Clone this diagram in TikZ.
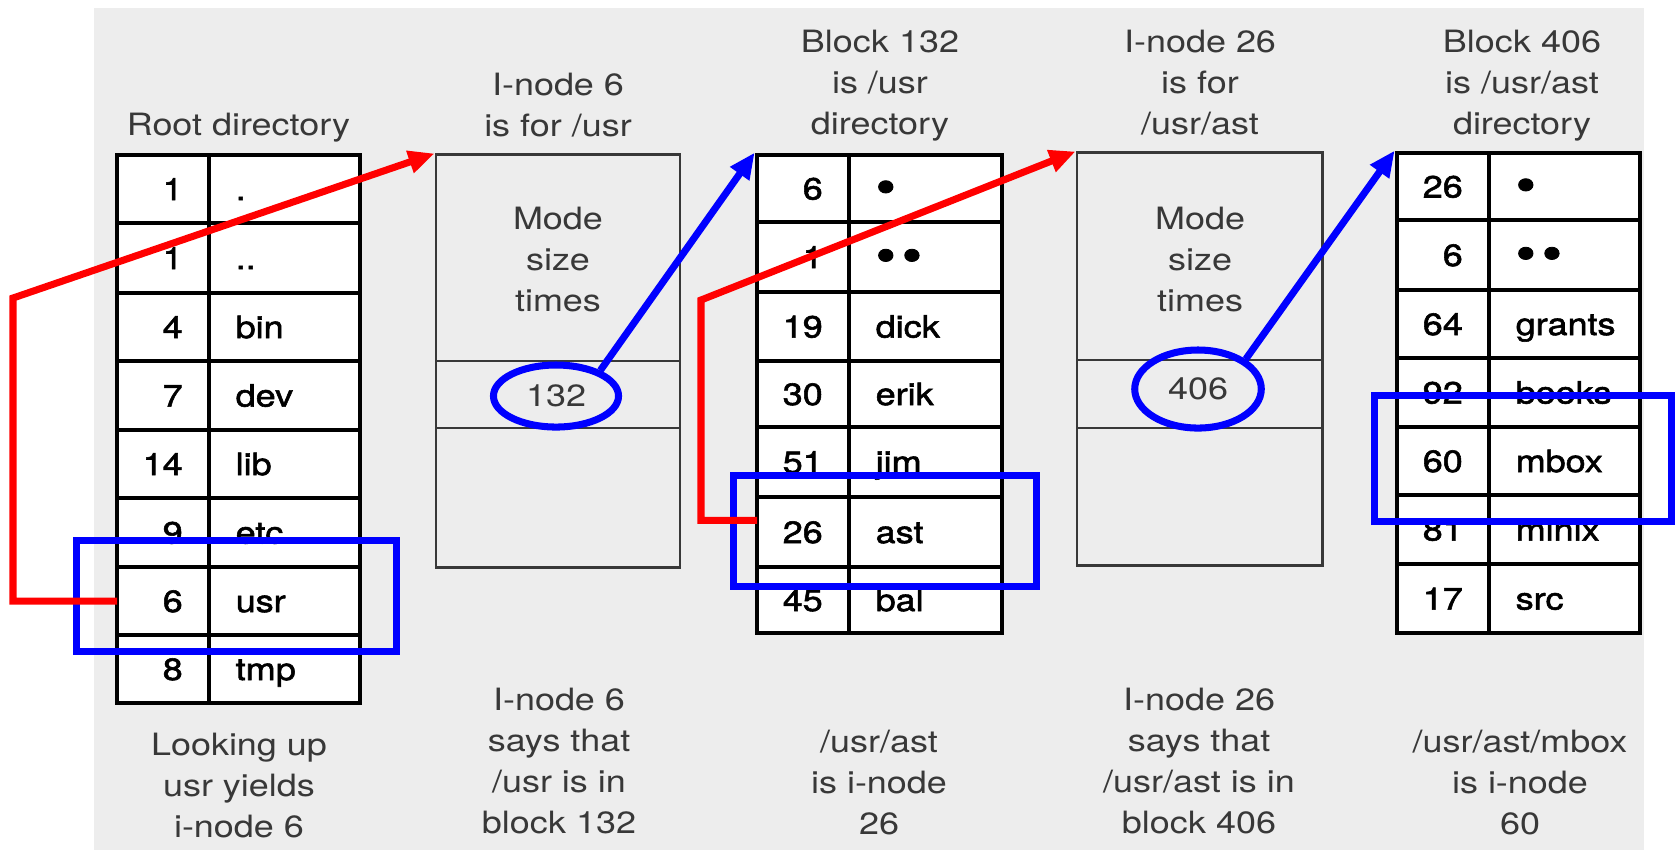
\documentclass[tikz,border=0pt]{standalone}
\usepackage{fontspec}
\setmainfont{TeX Gyre Heros}[FakeStretch=1.17]
\newfontfamily\cellfont{TeX Gyre Heros}[FakeStretch=1.17,FakeBold=1.8]
\usetikzlibrary{arrows.meta,shapes.geometric}
\definecolor{paper}{HTML}{EDEDED}
\definecolor{inkgray}{HTML}{383838}
\definecolor{markred}{HTML}{FF0000}
\definecolor{markblue}{HTML}{0000FF}
\newcommand\entrydot{\raisebox{-0.14em}{\scalebox{1.6}{\textbullet}}}

\begin{document}
\begin{tikzpicture}[x=0.01cm,y=-0.01cm,
  caption/.style={align=center,inner sep=0pt,anchor=north,text=inkgray,
    font=\fontsize{8.74}{11.67}\selectfont},
  tablebox/.style={draw=black,fill=white,line width=1.3pt,inner sep=0pt},
  tableline/.style={draw=black,line width=1.3pt},
  inodebox/.style={draw=inkgray,line width=0.8pt,inner sep=0pt},
  inodeline/.style={draw=inkgray,line width=0.8pt},
  numcell/.style={anchor=west,text width=0.65cm,align=right,inner sep=0pt,
    text height=0.22cm,text depth=0pt,font=\cellfont\fontsize{8.74}{11.67}\selectfont},
  namecell/.style={anchor=west,inner sep=0pt,text height=0.22cm,text depth=0pt,
    font=\cellfont\fontsize{8.74}{11.67}\selectfont},
  ring/.style={ellipse,draw=markblue,line width=2pt,inner sep=0pt,text=inkgray,
    font=\fontsize{8.74}{11.67}\selectfont},
  hilite/.style={draw=markblue,line width=2pt},
  redline/.style={draw=markred,line width=2pt,-{Triangle[length=0.26cm,width=0.22cm]}},
  blueline/.style={draw=markblue,line width=2pt,-{Triangle[length=0.26cm,width=0.22cm]}}]

  \useasboundingbox (0,0) rectangle (1680,850);
  \fill[white] (0,0) rectangle (1680,850);
  \fill[paper] (94,8) rectangle (1644,850);

  % root directory
  \node[caption] (rootlbl) at (238.5,112) {Root directory};
  \node[tablebox,minimum width=2.43cm,minimum height=5.48cm] (root) at (238.5,429) {};
  \draw[tableline] (209,155) -- (209,703);
  \draw[tableline] (117,223) -- (360,223);
  \draw[tableline] (117,293) -- (360,293);
  \draw[tableline] (117,361) -- (360,361);
  \draw[tableline] (117,430) -- (360,430);
  \draw[tableline] (117,498) -- (360,498);
  \draw[tableline] (117,567) -- (360,567);
  \draw[tableline] (117,635) -- (360,635);

  \node[numcell] (root-dot-ino) at (117,189) {1};
  \node[namecell] (root-dot) at (235,189) {.};
  \node[numcell] (root-dotdot-ino) at (117,258) {1};
  \node[namecell] (root-dotdot) at (235,258) {..};
  \node[numcell] (root-bin-ino) at (117,327) {4};
  \node[namecell] (root-bin) at (235,327) {bin};
  \node[numcell] (root-dev-ino) at (117,395.5) {7};
  \node[namecell] (root-dev) at (235,395.5) {dev};
  \node[numcell] (root-lib-ino) at (117,464) {14};
  \node[namecell] (root-lib) at (235,464) {lib};
  \node[numcell] (root-etc-ino) at (117,532.5) {9};
  \node[namecell] (root-etc) at (235,532.5) {etc};
  \node[numcell] (root-usr-ino) at (117,601) {6};
  \node[namecell] (root-usr) at (235,601) {usr};
  \node[numcell] (root-tmp-ino) at (117,669) {8};
  \node[namecell] (root-tmp) at (235,669) {tmp};

  % i-node 6
  \node[caption] (in6lbl) at (558,72) {I-node 6\\is for /usr};
  \node[inodebox,minimum width=2.44cm,minimum height=4.12cm] (in6) at (558,361) {};
  \draw[inodeline] (436,361) -- (680,361);
  \draw[inodeline] (436,428) -- (680,428);
  \node[caption] (in6attr) at (558,206) {Mode\\size\\times};

  % block 132
  \node[caption] (blk132lbl) at (880,29) {Block 132\\is /usr\\directory};
  \node[tablebox,minimum width=2.45cm,minimum height=4.78cm] (blk132) at (879.5,394) {};
  \draw[tableline] (849,155) -- (849,633);
  \draw[tableline] (757,222) -- (1002,222);
  \draw[tableline] (757,292) -- (1002,292);
  \draw[tableline] (757,361) -- (1002,361);
  \draw[tableline] (757,427) -- (1002,427);
  \draw[tableline] (757,497) -- (1002,497);
  \draw[tableline] (757,567) -- (1002,567);

  \node[numcell] (b132-dot-ino) at (757,188.5) {6};
  \node[namecell] (b132-dot) at (875,188.5) {\entrydot};
  \node[numcell] (b132-dotdot-ino) at (757,257) {1};
  \node[namecell] (b132-dotdot) at (875,257) {\entrydot\hspace{0.06cm}\entrydot};
  \node[numcell] (b132-dick-ino) at (757,326.5) {19};
  \node[namecell] (b132-dick) at (875,326.5) {dick};
  \node[numcell] (b132-erik-ino) at (757,394) {30};
  \node[namecell] (b132-erik) at (875,394) {erik};
  \node[numcell] (b132-jim-ino) at (757,462) {51};
  \node[namecell] (b132-jim) at (875,462) {jim};
  \node[numcell] (b132-ast-ino) at (757,532) {26};
  \node[namecell] (b132-ast) at (875,532) {ast};
  \node[numcell] (b132-bal-ino) at (757,600) {45};
  \node[namecell] (b132-bal) at (875,600) {bal};

  % i-node 26
  \node[caption] (in26lbl) at (1200,29) {I-node 26\\is for\\/usr/ast};
  \node[inodebox,minimum width=2.45cm,minimum height=4.12cm] (in26) at (1199.5,359) {};
  \draw[inodeline] (1077,360) -- (1322,360);
  \draw[inodeline] (1077,428) -- (1322,428);
  \node[caption] (in26attr) at (1200,206) {Mode\\size\\times};

  % block 406
  \node[caption] (blk406lbl) at (1522,29) {Block 406\\is /usr/ast\\directory};
  \node[tablebox,minimum width=2.43cm,minimum height=4.8cm] (blk406) at (1518.5,393) {};
  \draw[tableline] (1489,153) -- (1489,633);
  \draw[tableline] (1397,220) -- (1640,220);
  \draw[tableline] (1397,290) -- (1640,290);
  \draw[tableline] (1397,358) -- (1640,358);
  \draw[tableline] (1397,427) -- (1640,427);
  \draw[tableline] (1397,495) -- (1640,495);
  \draw[tableline] (1397,564) -- (1640,564);

  \node[numcell] (b406-dot-ino) at (1397,186.5) {26};
  \node[namecell] (b406-dot) at (1515,186.5) {\entrydot};
  \node[numcell] (b406-dotdot-ino) at (1397,255) {6};
  \node[namecell] (b406-dotdot) at (1515,255) {\entrydot\hspace{0.06cm}\entrydot};
  \node[numcell] (b406-grants-ino) at (1397,324) {64};
  \node[namecell] (b406-grants) at (1515,324) {grants};
  \node[numcell] (b406-books-ino) at (1397,392.5) {92};
  \node[namecell] (b406-books) at (1515,392.5) {books};
  \node[numcell] (b406-mbox-ino) at (1397,461) {60};
  \node[namecell] (b406-mbox) at (1515,461) {mbox};
  \node[numcell] (b406-minix-ino) at (1397,529.5) {81};
  \node[namecell] (b406-minix) at (1515,529.5) {minix};
  \node[numcell] (b406-src-ino) at (1397,598.5) {17};
  \node[namecell] (b406-src) at (1515,598.5) {src};

  % captions below
  \node[caption] (step1) at (239,732) {Looking up\\usr yields\\i-node 6};
  \node[caption] (step2) at (559,687) {I-node 6\\says that\\/usr is in\\block 132};
  \node[caption] (step3) at (879,729) {/usr/ast\\is i-node\\26};
  \node[caption] (step4) at (1199,687) {I-node 26\\says that\\/usr/ast is in\\block 406};
  \node[caption] (step5) at (1520,729) {/usr/ast/mbox\\is i-node\\60};

  % marks
  \draw[hilite] (76.5,540.5) rectangle (396.5,651.5);
  \draw[hilite] (733.5,475.5) rectangle (1036.5,586.5);
  \draw[hilite] (1374.5,395.5) rectangle (1671.5,521.5);

  \node[ring,minimum width=1.25cm,minimum height=0.62cm] (n132) at (556,396) {132};
  \node[ring,minimum width=1.265cm,minimum height=0.78cm] (n406) at (1198,389) {406};

  \coordinate (bend1) at (13,298);
  \coordinate (bend2) at (701,300);
  \draw[redline] (root-usr-ino.west) -| (bend1) -- (in6.north west);
  \draw[redline] (b132-ast-ino.north west) -| (bend2) -- (in26.north west);
  \draw[blueline] (n132.30) -- (blk132.north west);
  \draw[blueline] (n406.32) -- (blk406.north west);
\end{tikzpicture}
\end{document}
